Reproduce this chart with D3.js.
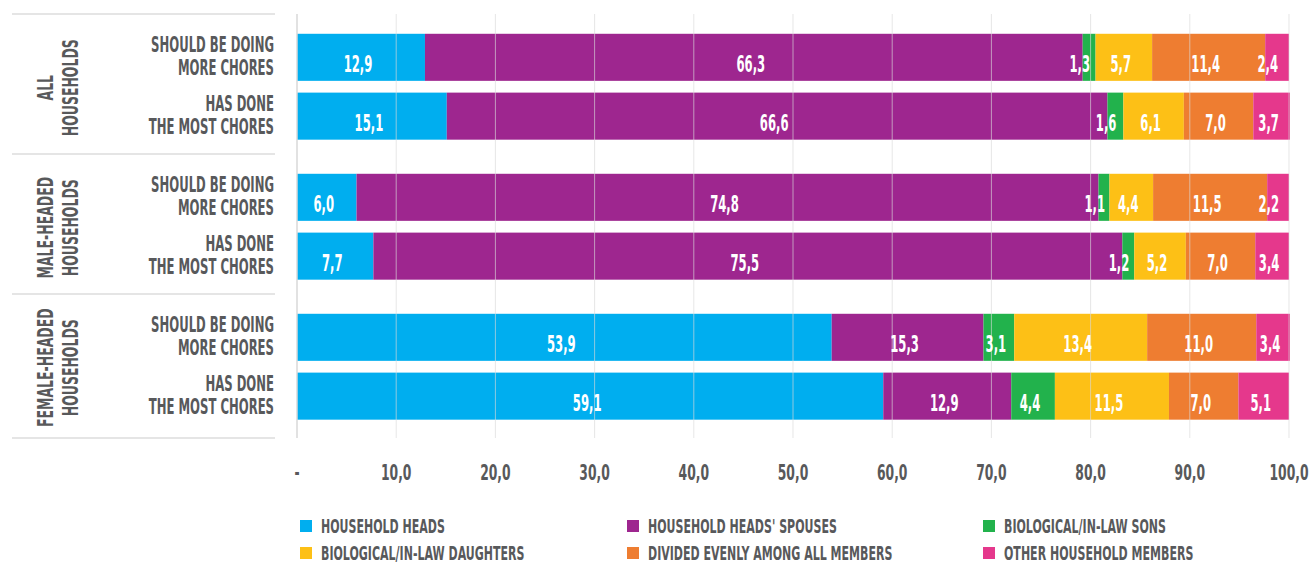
<!DOCTYPE html>
<html>
<head>
<meta charset="utf-8">
<script src="https://cdn.jsdelivr.net/npm/d3@7"></script>
<style>
  body { margin: 0; background: #fff; }
  svg text {
    font-family: "Liberation Sans Narrow", "Arial Narrow", "DejaVu Sans Condensed", "Roboto", sans-serif;
    font-weight: bold;
  }
</style>
</head>
<body>
<div id="chart"></div>
<script>
'use strict';

//DATA========================================================
const groupLabels = [['ALL', 'HOUSEHOLDS'], ['MALE-HEADED', 'HOUSEHOLDS'], ['FEMALE-HEADED', 'HOUSEHOLDS']];
const rowLabels = [['SHOULD BE DOING', 'MORE CHORES'], ['HAS DONE', 'THE MOST CHORES']];

const seriesNames = [
  'HOUSEHOLD HEADS',
  "HOUSEHOLD HEADS' SPOUSES",
  'BIOLOGICAL/IN-LAW SONS',
  'BIOLOGICAL/IN-LAW DAUGHTERS',
  'DIVIDED EVENLY AMONG ALL MEMBERS',
  'OTHER HOUSEHOLD MEMBERS'
];
const seriesColors = ['#00AEEF', '#9E268F', '#22B24C', '#FDC016', '#EE7D31', '#E5388C'];

// one value per bar, top to bottom
const heads     = [12.9, 15.1, 6.0, 7.7, 53.9, 59.1];
const spouses   = [66.3, 66.6, 74.8, 75.5, 15.3, 12.9];
const sons      = [1.3, 1.6, 1.1, 1.2, 3.1, 4.4];
const daughters = [5.7, 6.1, 4.4, 5.2, 13.4, 11.5];
const evenly    = [11.4, 7.0, 11.5, 7.0, 11.0, 7.0];
const others    = [2.4, 3.7, 2.2, 3.4, 3.4, 5.1];

const tickValues = [0, 10, 20, 30, 40, 50, 60, 70, 80, 90, 100];
const tickLabels = ['-', '10,0', '20,0', '30,0', '40,0', '50,0', '60,0', '70,0', '80,0', '90,0', '100,0'];
//DATA========================================================

const width = 1309;
const height = 565;
const textColor = '#58595B';

const svg = d3.select('#chart')
  .append('svg')
  .attr('width', width)
  .attr('height', height);

// the original font is a tall condensed one, so measure a sample string
// and squeeze horizontally until it is as wide as in the picture
function fitSqueeze(str, size, target) {
  const probe = svg.append('text').attr('font-size', size).text(str);
  const w = probe.node().getComputedTextLength();
  probe.remove();
  return target / w;
}
const sqRow = fitSqueeze('SHOULD BE DOING', 21, 123);
const sqTick = fitSqueeze('10,0', 22, 30.5);
const sqVal = fitSqueeze('12,9', 23, 28.7);
const sqLegend = fitSqueeze('HOUSEHOLD HEADS', 20, 124);
const sqGroup = fitSqueeze('HOUSEHOLDS', 21, 97);

function addText(parent, x, y, str, size, sq, opts) {
  opts = opts || {};
  return parent.append('text')
    .attr('transform', `translate(${x},${y})${opts.rotate ? ' rotate(' + opts.rotate + ')' : ''} scale(${sq},1)`)
    .attr('font-size', size)
    .attr('text-anchor', opts.anchor || 'start')
    .attr('fill', opts.fill || textColor)
    .text(str);
}

// build the table d3.stack wants
const allSeries = [heads, spouses, sons, daughters, evenly, others];
const rows = [];
groupLabels.forEach((g, gi) => {
  rowLabels.forEach((r, ri) => {
    const row = { group: gi, sub: ri, label: r };
    seriesNames.forEach((s, si) => { row[s] = allSeries[si][rows.length]; });
    rows.push(row);
  });
});

const stacked = d3.stack().keys(seriesNames)(rows);

//SCALES======================================================
const plotTop = 14;
const plotBottom = 438;
const x = d3.scaleLinear().domain([0, 100]).range([297, 1289]);
const yGroup = d3.scaleBand().domain([0, 1, 2]).range([plotTop, 434]);
const yRow = d3.scaleBand().domain([0, 1])
  .range([0, yGroup.bandwidth()])
  .paddingInner(0.2)
  .paddingOuter(0.29)
  .align(0.58);
const barY = d => yGroup(d.group) + yRow(d.sub);
const barH = yRow.bandwidth();

//BARS========================================================
const layers = svg.append('g').attr('class', 'bars')
  .selectAll('g')
  .data(stacked)
  .join('g')
  .attr('fill', (d, i) => seriesColors[i]);

layers.selectAll('rect')
  .data(d => d)
  .join('rect')
  .attr('x', d => x(d[0]))
  .attr('y', d => barY(d.data))
  .attr('width', d => x(d[1]) - x(d[0]))
  .attr('height', barH);

//GRIDLINES (drawn over bars, faint)==========================
svg.append('g').attr('class', 'grid')
  .selectAll('line')
  .data(tickValues)
  .join('line')
  .attr('x1', d => x(d)).attr('x2', d => x(d))
  .attr('y1', plotTop).attr('y2', plotBottom)
  .attr('stroke', '#D9D9D9')
  .attr('stroke-opacity', d => d === 0 ? 1 : 0.65)
  .attr('stroke-width', d => d === 0 ? 1.5 : 1);

// x tick labels
const tickG = svg.append('g').attr('class', 'ticks');
tickValues.forEach((t, i) => addText(tickG, x(t), 480, tickLabels[i], 22, sqTick, { anchor: 'middle' }));

//VALUE LABELS================================================
const valG = svg.append('g').attr('class', 'values');
stacked.forEach(layer => {
  layer.forEach(d => {
    const v = d[1] - d[0];
    const x0 = x(d[0]);
    const x1 = x(d[1]);
    const mid = (x0 + x1) / 2;
    const narrow = x1 - x0 < 30;
    addText(valG, narrow ? mid + 1 : mid - 3, barY(d.data) + barH * 0.81,
      d3.format('.1f')(v).replace('.', ','), 23, sqVal,
      { anchor: narrow ? 'end' : 'middle', fill: '#fff' });
  });
});

//LEFT SIDE LABELS============================================
const leftG = svg.append('g').attr('class', 'left');

// group separators
const sepY = [yGroup(0), yGroup(1), yGroup(2), plotBottom];
leftG.selectAll('line')
  .data(sepY)
  .join('line')
  .attr('x1', 12).attr('x2', 275)
  .attr('y1', d => d)
  .attr('y2', d => d)
  .attr('stroke', '#DCDCDC')
  .attr('stroke-width', 1.5);

// row labels
rows.forEach(r => {
  const cy = barY(r) + barH / 2;
  addText(leftG, 274, cy - 5, r.label[0], 21, sqRow, { anchor: 'end' });
  addText(leftG, 274, cy + 18, r.label[1], 21, sqRow, { anchor: 'end' });
});

// rotated group labels
groupLabels.forEach((g, gi) => {
  const top = yGroup(gi) + yRow(0);
  const bottom = yGroup(gi) + yRow(1) + barH;
  const cy = (top + bottom) / 2 + 1;
  addText(leftG, 53, cy, g[0], 21, sqGroup, { anchor: 'middle', rotate: -90 });
  addText(leftG, 78, cy, g[1], 21, sqGroup, { anchor: 'middle', rotate: -90 });
});

//LEGEND======================================================
const legendCols = [300, 627, 983];
const legendRows = [520, 547];
const legendG = svg.append('g').attr('class', 'legend');
seriesNames.forEach((s, i) => {
  const lx = legendCols[i % 3];
  const ly = legendRows[Math.floor(i / 3)];
  legendG.append('rect')
    .attr('x', lx).attr('y', ly)
    .attr('width', 12).attr('height', 12)
    .attr('fill', seriesColors[i]);
  addText(legendG, lx + 21, ly + 13, s, 20, sqLegend);
});
</script>
</body>
</html>
